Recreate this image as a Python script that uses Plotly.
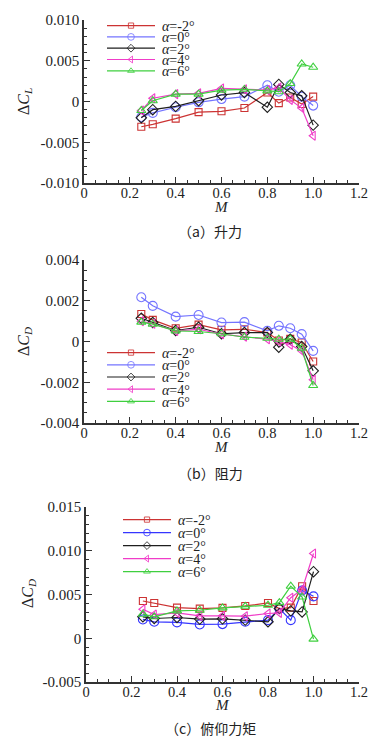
import plotly.graph_objects as go

# ---------------- data ----------------
mach = [0.25, 0.3, 0.4, 0.5, 0.6, 0.7, 0.8, 0.85, 0.9, 0.95, 1.0]
series_names = ["<i>α</i>=-2°", "<i>α</i>=0°", "<i>α</i>=2°", "<i>α</i>=4°", "<i>α</i>=6°"]

# (a) lift increment
dCL_m2 = [-0.0031, -0.0028, -0.0021, -0.0013, -0.0012, -0.0008, 0.0011, -0.0002, 0.0005, -0.0003, 0.0006]
dCL_0 = [-0.0019, -0.0014, -0.0007, -0.0001, 0.0003, 0.0006, 0.0020, 0.0012, 0.0020, 0.0006, -0.0005]
dCL_2 = [-0.0020, -0.0010, -0.0006, 0.0001, 0.0008, 0.0011, -0.0007, 0.0021, 0.0011, 0.0007, -0.0029]
dCL_4 = [-0.0011, 0.0004, 0.0009, 0.0010, 0.0016, 0.0015, 0.0014, 0.0017, 0.0002, -0.0008, -0.0042]
dCL_6 = [-0.0011, 0.0001, 0.0009, 0.0009, 0.0014, 0.0015, 0.0013, 0.0012, 0.0022, 0.0046, 0.0042]

# (b) drag increment
dCD_m2 = [0.00135, 0.00106, 0.00065, 0.00083, 0.00057, 0.00060, 0.00044, 0.00005, 0.00013, -0.00005, -0.00098]
dCD_0 = [0.00217, 0.00175, 0.00122, 0.00130, 0.00093, 0.00095, 0.00052, 0.00077, 0.00065, 0.00036, -0.00046]
dCD_2 = [0.00114, 0.00093, 0.00054, 0.00070, 0.00038, 0.00044, 0.00044, -0.00028, 0.00011, -0.00025, -0.00144]
dCD_4 = [0.00100, 0.00087, 0.00052, 0.00060, 0.00036, 0.00024, 0.00011, 0.00000, -0.00016, -0.00046, -0.00188]
dCD_6 = [0.00095, 0.00085, 0.00052, 0.00049, 0.00038, 0.00021, 0.00016, 0.00011, 0.00011, -0.00033, -0.00216]

# (c) pitching moment increment
dCm_m2 = [0.00426, 0.00403, 0.00350, 0.00339, 0.00347, 0.00369, 0.00403, 0.00339, 0.00350, 0.00595, 0.00426]
dCm_0 = [0.00215, 0.00188, 0.00181, 0.00158, 0.00162, 0.00188, 0.00207, 0.00340, 0.00207, 0.00546, 0.00479]
dCm_2 = [0.00245, 0.00226, 0.00237, 0.00219, 0.00222, 0.00207, 0.00188, 0.00340, 0.00313, 0.00301, 0.00761]
dCm_4 = [0.00332, 0.00271, 0.00290, 0.00256, 0.00256, 0.00252, 0.00283, 0.00290, 0.00463, 0.00558, 0.00968]
dCm_6 = [0.00275, 0.00245, 0.00313, 0.00320, 0.00347, 0.00365, 0.00377, 0.00407, 0.00595, 0.00471, -0.00010]

# ticks
x_tickvals = [0, 0.2, 0.4, 0.6, 0.8, 1.0, 1.2]
x_ticktext = ["0", "0.2", "0.4", "0.6", "0.8", "1.0", "1.2"]
ya_tickvals = [-0.010, -0.005, 0, 0.005, 0.010]
ya_ticktext = ["-0.010", "-0.005", "0", "0.005", "0.010"]
yb_tickvals = [-0.004, -0.002, 0, 0.002, 0.004]
yb_ticktext = ["-0.004", "-0.002", "0", "0.002", "0.004"]
yc_tickvals = [-0.005, 0, 0.005, 0.010, 0.015]
yc_ticktext = ["-0.005", "0", "0.005", "0.010", "0.015"]

captions = ["（a）升力", "（b）阻力", "（c）俯仰力矩"]

# ---------------- styling / layout ----------------
SERIF = "Liberation Serif, Times New Roman, serif"
CJK = "Noto Sans CJK SC"
symbols = ["square-open", "circle-open", "diamond-open", "triangle-left-open", "triangle-up-open"]
msizes = [7, 9, 8, 8, 8]
colors_ab = ["#cc3333", "#7474ff", "#1e1e1e", "#f03cc8", "#3fcf3f"]
colors_c = ["#cc3333", "#3535ff", "#1e1e1e", "#f03cc8", "#3fcf3f"]

W, H = 385, 749
ML, MR, MT, MB = 84, 26, 20, 67
PW, PH = W - ML - MR, H - MT - MB

def px_x(p):
    return (p - ML) / PW

def px_y(p):
    return (H - MB - p) / PH

panels = [
    dict(data=[dCL_m2, dCL_0, dCL_2, dCL_4, dCL_6], colors=colors_ab, x="x", y="y", legend="legend",
         xdom=[px_x(84), px_x(359)], ydom=[px_y(183), px_y(20)],
         yr=[-0.010, 0.010], tv=ya_tickvals, tt=ya_ticktext, minor=0.001,
         leg=(px_x(102), px_y(10)), ytitle="Δ<i>C</i><sub><i>L</i></sub>", ytx=px_x(25), yty=px_y(102),
         mty=px_y(207), capy=px_y(231)),
    dict(data=[dCD_m2, dCD_0, dCD_2, dCD_4, dCD_6], colors=colors_ab, x="x2", y="y2", legend="legend2",
         xdom=[px_x(84), px_x(359)], ydom=[px_y(423), px_y(260)],
         yr=[-0.004, 0.004], tv=yb_tickvals, tt=yb_ticktext, minor=0.0005,
         leg=(px_x(102), px_y(337)), ytitle="Δ<i>C</i><sub><i>D</i></sub>", ytx=px_x(25), yty=px_y(342),
         mty=px_y(447), capy=px_y(473)),
    dict(data=[dCm_m2, dCm_0, dCm_2, dCm_4, dCm_6], colors=colors_c, x="x3", y="y3", legend="legend3",
         xdom=[px_x(86), px_x(359)], ydom=[px_y(682), px_y(507)],
         yr=[-0.005, 0.015], tv=yc_tickvals, tt=yc_ticktext, minor=0.001,
         leg=(px_x(118), px_y(504)), ytitle="Δ<i>C</i><sub><i>D</i></sub>", ytx=px_x(28), yty=px_y(594),
         mty=px_y(705), capy=px_y(728)),
]

fig = go.Figure()
annotations = []
layout = dict(
    width=W, height=H,
    margin=dict(l=ML, r=MR, t=MT, b=MB, pad=0, autoexpand=False),
    paper_bgcolor="white", plot_bgcolor="white",
    font=dict(family=SERIF, size=15, color="#222"),
    showlegend=True,
)

for i, p in enumerate(panels):
    for j in range(5):
        fig.add_trace(go.Scatter(
            x=mach, y=p["data"][j], mode="lines+markers", name=series_names[j],
            xaxis=p["x"], yaxis=p["y"], legend=p["legend"],
            line=dict(color=p["colors"][j], width=1.2),
            marker=dict(symbol=symbols[j], size=msizes[j], color=p["colors"][j], line=dict(width=1.1)),
        ))
    sfx = "" if i == 0 else str(i + 1)
    layout["xaxis" + sfx] = dict(
        domain=p["xdom"], anchor=p["y"], range=[0, 1.2], automargin=False,
        tickmode="array", tickvals=x_tickvals, ticktext=x_ticktext,
        ticks="inside", ticklen=6, tickwidth=1, tickcolor="#333", ticklabelstandoff=-4,
        minor=dict(tickmode="linear", tick0=0, dtick=0.05, ticks="inside", ticklen=3, tickwidth=1, tickcolor="#333"),
        showline=True, linecolor="#333", linewidth=1.5, showgrid=False, zeroline=False,
        tickfont=dict(family=SERIF, size=14.5, color="#222"),
    )
    layout["yaxis" + sfx] = dict(
        domain=p["ydom"], anchor=p["x"], range=p["yr"], automargin=False,
        tickmode="array", tickvals=p["tv"], ticktext=p["tt"],
        ticks="inside", ticklen=6, tickwidth=1, tickcolor="#333",
        minor=dict(tickmode="linear", tick0=0, dtick=p["minor"], ticks="inside", ticklen=3, tickwidth=1, tickcolor="#333"),
        showline=True, linecolor="#333", linewidth=1.5, showgrid=False, zeroline=False,
        tickfont=dict(family=SERIF, size=15, color="#222"),
    )
    layout[p["legend"]] = dict(
        x=p["leg"][0], y=p["leg"][1], xanchor="left", yanchor="top",
        bgcolor="rgba(0,0,0,0)", borderwidth=0, itemwidth=50,
        font=dict(family=SERIF, size=14, color="#222"), tracegroupgap=0,
    )
    annotations.append(dict(text=p["ytitle"], x=p["ytx"], y=p["yty"], xref="paper", yref="paper",
                            xanchor="center", yanchor="middle",
                            showarrow=False, textangle=-90, font=dict(family=SERIF, size=16, color="#222")))
    annotations.append(dict(text="<i>M</i>", x=(p["xdom"][0] + p["xdom"][1]) / 2, y=p["mty"],
                            xref="paper", yref="paper", xanchor="center", yanchor="middle", showarrow=False,
                            font=dict(family=SERIF, size=15, color="#222")))
    annotations.append(dict(text=captions[i], x=px_x(210), y=p["capy"], xref="paper", yref="paper",
                            xanchor="center", yanchor="middle",
                            showarrow=False, font=dict(family=CJK, size=14, color="#222")))

layout["annotations"] = annotations
fig.update_layout(**layout)

# page without body margin; compact legend rows like the original figure
post = """
document.body.style.margin = '0';
document.body.style.padding = '0';
var gd = document.getElementById('{plot_id}');
var sp = {legend: 11.3, legend2: 12.2, legend3: 13.0};
Object.keys(sp).forEach(function(k){
  var items = gd.querySelectorAll('g.' + k + ' g.traces');
  var y0 = null;
  items.forEach(function(el, i){
    var m = /translate\\(\\s*([-\\d.e]+)[ ,]+([-\\d.e]+)\\s*\\)/.exec(el.getAttribute('transform') || '');
    if(!m) return;
    if(y0 === null) y0 = parseFloat(m[2]);
    el.setAttribute('transform', 'translate(' + m[1] + ',' + (y0 + i * sp[k]) + ')');
    el.querySelectorAll('path.js-line').forEach(function(l){ l.setAttribute('d', 'M5,0h48'); });
    el.querySelectorAll('g.legendpoints path.scatterpts').forEach(function(pt){
      pt.setAttribute('transform', 'translate(29,0) scale(0.75)');
    });
    el.querySelectorAll('text.legendtext').forEach(function(t){ t.setAttribute('x', '60'); });
  });
});
"""
fig.write_html("out.html", post_script=post, config={"displayModeBar": False})
